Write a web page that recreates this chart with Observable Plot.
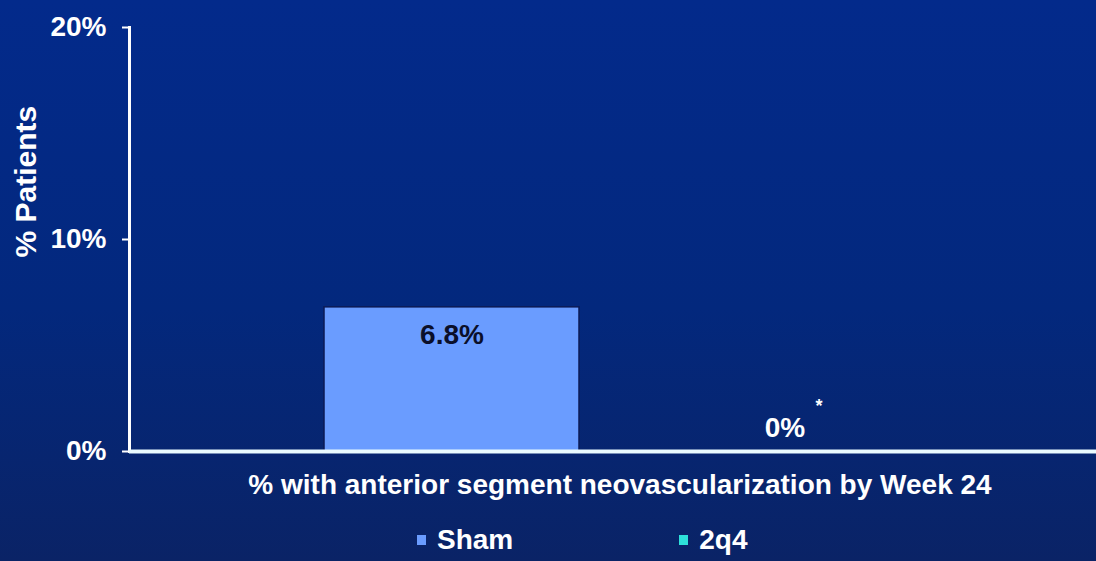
<!DOCTYPE html>
<html>
<head>
<meta charset="utf-8">
<script src="https://cdn.jsdelivr.net/npm/d3@7"></script>
<script src="https://cdn.jsdelivr.net/npm/@observablehq/plot@0.6"></script>
<style>
  html, body { margin: 0; padding: 0; }
  body {
    width: 1096px; height: 561px; overflow: hidden;
    background: linear-gradient(180deg, #032a8b 0%, #03287d 55%, #0a2366 100%);
    font-family: "Liberation Sans", Arial, sans-serif; font-weight: bold; color: #fff;
  }
  #chart svg { display: block; }
  #legend { display: flex; align-items: center; height: 43px; padding-left: 417px; gap: 166px; font-size: 28px; }
  #legend .item { display: flex; align-items: center; }
  #legend .sw { width: 9px; height: 10px; margin-right: 11px; }
</style>
</head>
<body>
<div id="chart"></div>
<div id="legend"></div>
<script>
// Series, values and their printed labels
const series = ["Sham", "2q4"];
const values = [6.8, 0];
const valueLabels = ["6.8%", "0%"];
const sigMarks = ["", "*"];
const colors = ["#6a9cff", "#2ee0da"];
const yTicks = [0, 10, 20];
const xTitle = "% with anterior segment neovascularization by Week 24";
const yTitle = "% Patients";

const rows = series.map((s, i) => ({ series: s, value: values[i], label: valueLabels[i], sig: sigMarks[i] }));

const chart = Plot.plot({
  width: 1096,
  height: 518,
  marginTop: 27,
  marginBottom: 67,
  marginLeft: 129,
  marginRight: 0,
  style: { background: "transparent", color: "white", fontFamily: "'Liberation Sans', Arial, sans-serif", fontWeight: "bold", fontSize: "28px" },
  x: { domain: series, range: [323, 913], paddingInner: 0.2335, paddingOuter: 0, axis: null },
  y: { domain: [0, 20], axis: null },
  color: { domain: series, range: colors },
  marks: [
    Plot.rectY(rows.filter(d => d.value > 0), { x: "series", y: "value", fill: "series", stroke: "#0b1a55", strokeWidth: 1.5 }),
    Plot.axisY({ ticks: yTicks, label: null, tickSize: 7, tickPadding: 16, tickFormat: d => d + "%", stroke: "white", strokeWidth: 2, fill: "white", strokeOpacity: 1 }),
    Plot.frame({ anchor: "left", stroke: "white", strokeWidth: 3 }),
    Plot.ruleY([0], { stroke: "#eafbff", strokeWidth: 4 }),
    // value inside the visible bar
    Plot.text(rows.filter(d => d.value > 0), { x: "series", y: "value", text: "label", fill: "#0a0f2a", fontSize: 28, dy: 28 }),
    // value resting on the baseline for the empty bar
    Plot.text(rows.filter(d => d.value === 0), { x: "series", y: "value", text: "label", fill: "white", fontSize: 28, dy: -23 }),
    Plot.text(rows.filter(d => d.sig), { x: "series", y: "value", text: "sig", fill: "white", fontSize: 18, dx: 34, dy: -45 }),
    Plot.text([xTitle], { frameAnchor: "bottom", fill: "white", fontSize: 28, dx: 7, dy: 42 }),
    Plot.text([yTitle], { frameAnchor: "left", rotate: -90, fill: "white", fontSize: 30, dx: -103, dy: 18 })
  ]
});
document.getElementById("chart").append(chart);

// Legend below the plot
const legend = d3.select("#legend");
series.forEach((s, i) => {
  const item = legend.append("div").attr("class", "item");
  item.append("div").attr("class", "sw").style("background", colors[i]);
  item.append("span").text(s);
});
</script>
</body>
</html>
